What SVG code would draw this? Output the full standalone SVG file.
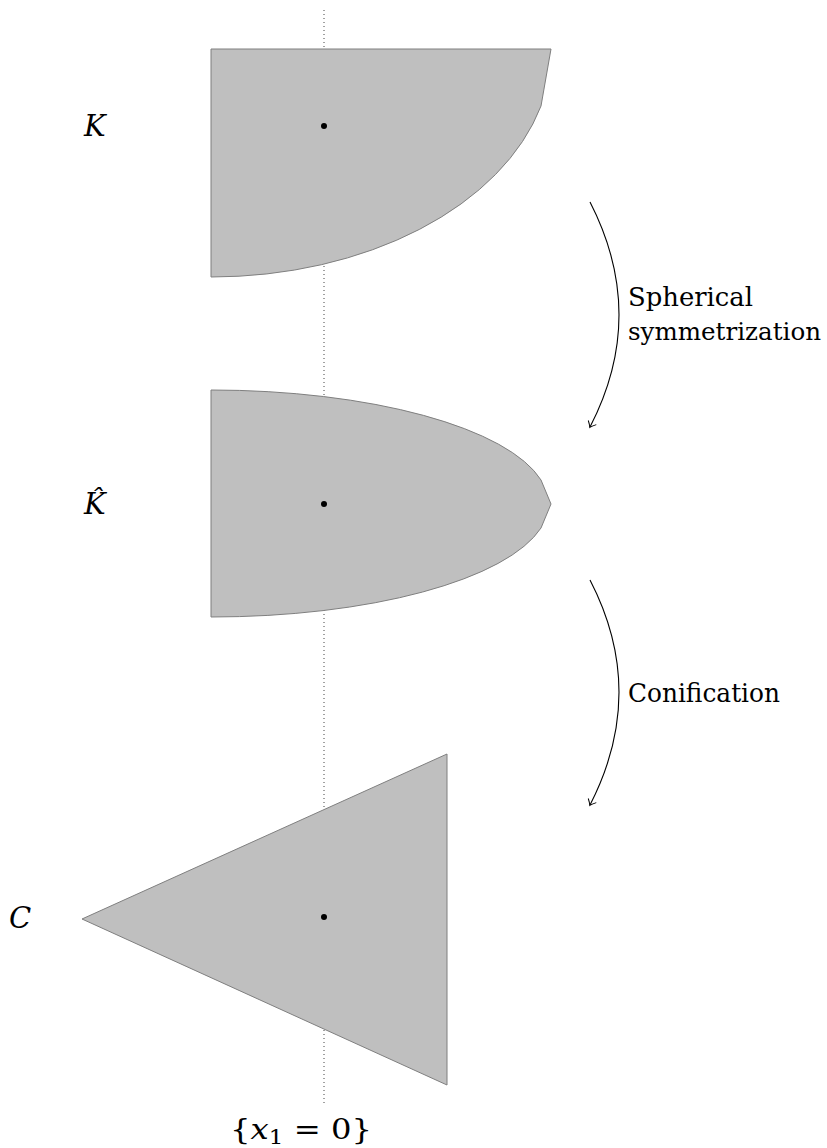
<svg xmlns="http://www.w3.org/2000/svg" width="827" height="1148" viewBox="0 0 827 1148">
<defs>
<style>
.shape{fill:#bfbfbf;stroke:#7f7f7f;stroke-width:1;stroke-linejoin:round}
.dot{fill:#000}
.arr{fill:none;stroke:#000;stroke-width:1.1}
.axis{fill:none;stroke:#444;stroke-width:1;stroke-dasharray:1 3}
.t{font-family:"DejaVu Serif",serif;fill:#000}
</style>
<marker id="to" viewBox="-6 -6 8 12" markerWidth="8" markerHeight="12" refX="0" refY="0" orient="auto" markerUnits="userSpaceOnUse">
<path d="M-5,-4.5 Q-1.5,-1 0.5,0 Q-1.5,1 -5,4.5" fill="none" stroke="#000" stroke-width="1"/>
</marker>
</defs>
<g id="axis">
<line class="axis" x1="324" y1="10" x2="324" y2="1105"/>
<text class="t" x="301" y="1139" font-size="28" text-anchor="middle" textLength="142" lengthAdjust="spacingAndGlyphs">{<tspan font-style="italic">x</tspan><tspan font-size="20" dy="5">1</tspan><tspan dy="-5"> = 0}</tspan></text>
</g>
<g id="K">
<path class="shape" d="M211,49 L551,49 L541,106 A340.8,228 0 0 1 211,277 Z"/>
<circle class="dot" cx="324" cy="126" r="3"/>
<text class="t" x="84" y="136" font-size="29" font-style="italic">K</text>
</g>
<g id="Khat">
<path class="shape" d="M211,390 A337.7,113.5 0 0 1 541,480 L551,504 L541,528 A337.7,113.5 0 0 1 211,617 Z"/>
<circle class="dot" cx="324" cy="504" r="3"/>
<text class="t" x="84" y="514" font-size="29" font-style="italic">K̂</text>
</g>
<g id="C">
<path class="shape" d="M82,919 L447,754 L447,1085 Z"/>
<circle class="dot" cx="324" cy="917" r="3"/>
<text class="t" x="9" y="928" font-size="29" font-style="italic">C</text>
</g>
<g id="connectors">
<path class="arr" d="M590,202 Q648,315 590,427" marker-end="url(#to)"/>
<path class="arr" d="M590,580 Q648,692 590,805" marker-end="url(#to)"/>
</g>
<g id="labels">
<text class="t" x="628" y="306" font-size="26" textLength="125" lengthAdjust="spacingAndGlyphs">Spherical</text>
<text class="t" x="628" y="340" font-size="24" textLength="193" lengthAdjust="spacingAndGlyphs">symmetrization</text>
<text class="t" x="628" y="702" font-size="26" textLength="152" lengthAdjust="spacingAndGlyphs">Conification</text>
</g>
</svg>
